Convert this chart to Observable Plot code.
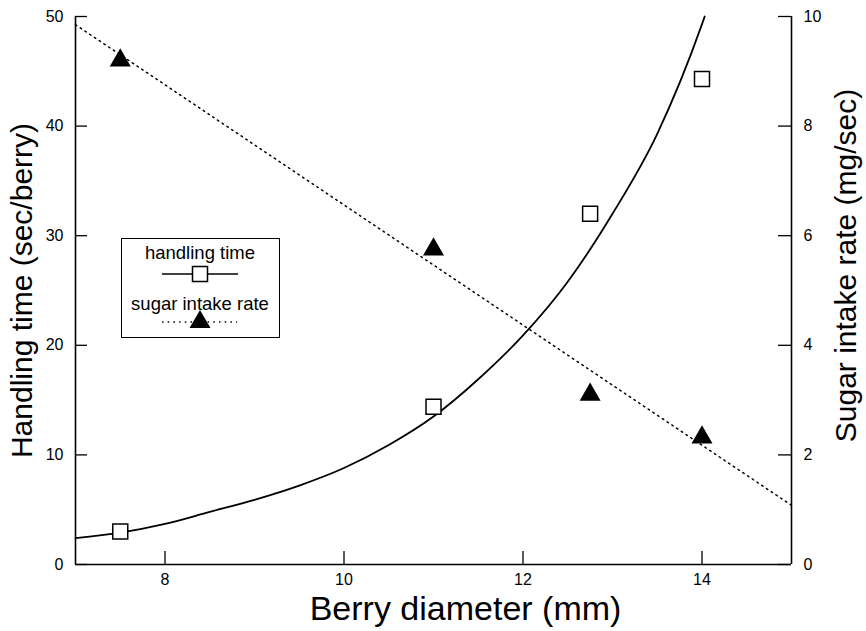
<!DOCTYPE html>
<html>
<head>
<meta charset="utf-8">
<script src="https://cdn.jsdelivr.net/npm/d3@7"></script>
<script src="https://cdn.jsdelivr.net/npm/@observablehq/plot@0.6"></script>
<style>
  html, body { margin: 0; padding: 0; background: #fff; }
  #wrap { position: relative; width: 866px; height: 631px; }
  #legend { position: absolute; left: 121px; top: 238px; width: 159px; height: 100px;
            border: 1.5px solid #000; background: #fff; box-sizing: border-box; }
  #legend svg { position: absolute; left: -1.5px; top: -1.5px; overflow: visible; }
</style>
</head>
<body>
<div id="wrap">
  <div id="chart"></div>
  <div id="legend">
    <svg width="159" height="100" font-family="Liberation Sans, Arial, sans-serif" font-size="18.5">
      <text x="79" y="21" text-anchor="middle">handling time</text>
      <line x1="41" x2="117" y1="36" y2="36" stroke="#000" stroke-width="1.6"></line>
      <rect x="71.5" y="28.5" width="15" height="15" fill="#fff" stroke="#000" stroke-width="1.5"></rect>
      <text x="79" y="72" text-anchor="middle">sugar intake rate</text>
      <line x1="41" x2="116" y1="84" y2="84" stroke="#000" stroke-width="1.5" stroke-dasharray="1.5 4.2"></line>
      <polygon points="79,72 68.5,90 89.5,90" fill="#000"></polygon>
    </svg>
  </div>
</div>
<script>
// Data
const diameter = [7.5, 11, 12.75, 14];             // mm
const handlingTime = [3.0, 14.4, 32.0, 44.3];      // sec/berry (squares)
const sugarDiameter = [7.5, 11, 12.75, 14];        // mm
const sugarRate = [9.2, 5.75, 3.1, 2.32];          // mg/sec (triangles)

// Fitted curve for handling time
const curveX = [7, 7.5, 8, 8.5, 9, 9.5, 10, 10.5, 11, 11.5, 12, 12.5, 13, 13.5, 14, 14.03];
const curveY = [2.4, 2.9, 3.7, 4.8, 5.9, 7.2, 8.8, 10.9, 13.5, 16.9, 20.9, 25.8, 32.0, 39.3, 49.3, 50];

// Fitted line for sugar intake rate (mg/sec)
const sugarLineX = [7, 15];
const sugarLineY = [9.85, 1.08];

// Axis ticks
const xTicks = [8, 10, 12, 14];
const leftTicks = [0, 10, 20, 30, 40, 50];
const rightTicks = [0, 2, 4, 6, 8, 10];

// Labels
const xLabel = "Berry diameter (mm)";
const yLeftLabel = "Handling time (sec/berry)";
const yRightLabel = "Sugar intake rate (mg/sec)";

const ratio = 5; // right axis (mg/sec) -> left axis units

const handlingPts = diameter.map((x, i) => ({x, y: handlingTime[i]}));
const sugarPts = sugarDiameter.map((x, i) => ({x, y: sugarRate[i] * ratio}));
const curve = curveX.map((x, i) => ({x, y: curveY[i]}));
const sugarLine = sugarLineX.map((x, i) => ({x, y: sugarLineY[i] * ratio}));

const W = 866, H = 631, mL = 75, mR = 75, mT = 16, mB = 67;
const pw = W - mL - mR, ph = H - mT - mB;

const chart = Plot.plot({
  width: W, height: H,
  marginLeft: mL, marginRight: mR, marginTop: mT, marginBottom: mB,
  x: {domain: [7, 15]},
  y: {domain: [0, 50]},
  style: {fontFamily: "Liberation Sans, Arial, sans-serif", fontSize: "16px", color: "#000", background: "#fff"},
  marks: [
    // axis lines
    Plot.ruleX([7, 15], {stroke: "#000", strokeWidth: 1.6}),
    Plot.ruleY([0], {stroke: "#000", strokeWidth: 1.6}),
    // inward ticks
    Plot.tickX(xTicks, {x: d => d, insetTop: ph - 13, stroke: "#000", strokeWidth: 1.3}),
    Plot.tickY(leftTicks, {y: d => d, insetRight: pw - 12, stroke: "#000", strokeWidth: 1.3}),
    Plot.tickY(rightTicks.map(v => v * ratio), {y: d => d, insetLeft: pw - 13, stroke: "#000", strokeWidth: 1.3}),
    // tick labels
    Plot.axisX(xTicks, {tickSize: 0, tickPadding: 9, label: null, fontSize: 16}),
    Plot.axisY(leftTicks, {anchor: "left", tickSize: 0, tickPadding: 12, label: null, fontSize: 16}),
    Plot.axisY(rightTicks.map(v => v * ratio), {anchor: "right", tickSize: 0, tickPadding: 12, label: null, fontSize: 16, tickFormat: d => String(d / ratio)}),
    // axis titles
    Plot.text([xLabel], {frameAnchor: "bottom", textAnchor: "middle", lineAnchor: "middle", dx: 32, dy: 45, fontSize: 34}),
    Plot.text([yLeftLabel], {frameAnchor: "left", textAnchor: "middle", lineAnchor: "middle", rotate: -90, dx: -53, fontSize: 30}),
    Plot.text([yRightLabel], {frameAnchor: "right", textAnchor: "middle", lineAnchor: "middle", rotate: -90, dx: 55, dy: -25, fontSize: 30}),
    // fitted curves
    Plot.line(curve, {x: "x", y: "y", curve: "monotone-x", stroke: "#000", strokeWidth: 1.8}),
    Plot.line(sugarLine, {x: "x", y: "y", stroke: "#000", strokeWidth: 1.5, strokeDasharray: "1.5 4.2"}),
    // data points
    Plot.dot(handlingPts, {x: "x", y: "y", symbol: "square", r: 8.46, fill: "#fff", stroke: "#000", strokeWidth: 1.5}),
    Plot.dot(sugarPts, {x: "x", y: "y", symbol: "triangle", r: 7.8, fill: "#000", stroke: "none"})
  ]
});
document.getElementById("chart").appendChild(chart);
</script>
</body>
</html>
